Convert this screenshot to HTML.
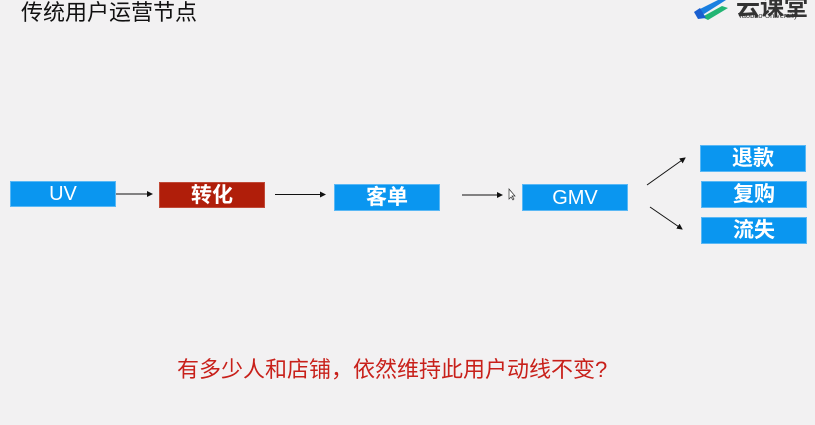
<!DOCTYPE html>
<html><head><meta charset="utf-8"><style>
html,body{margin:0;padding:0}
body{width:815px;height:425px;background:#f2f1f2;position:relative;overflow:hidden;font-family:"Liberation Sans","Noto Sans CJK SC",sans-serif}
.b{position:absolute;background:#0a96f0;color:#fff;text-align:center;font-size:20px;box-sizing:border-box;border:1px solid #5ab8f5}
.c{font-weight:bold;font-size:21px}
.t{position:absolute;white-space:nowrap}
</style></head><body>
<div class="t" style="left:21px;top:-5px;font-size:22px;color:#111">传统用户运营节点</div>
<svg style="position:absolute;left:692px;top:0" width="40" height="20"><polygon points="6,10 26,0 34,0 12,14" fill="#1a7fe0"/><polygon points="10,17 30,6 36,8 16,20" fill="#22b573"/><polygon points="2,12 8,8 14,18 6,19" fill="#1a5fd0"/></svg>
<div class="t" style="left:736px;top:-13px;font-size:24px;color:#333;font-weight:bold">云课堂</div>
<div class="t" style="left:738px;top:11px;font-size:7.5px;color:#333">Taobao University</div>

<div class="b" style="left:10px;top:181px;width:106px;height:26px;line-height:25px">UV</div>
<div class="b c" style="left:159px;top:182px;width:106px;height:26px;line-height:25px;background:#b01e0a;border-color:#c04a38">转化</div>
<div class="b c" style="left:334px;top:184px;width:106px;height:27px;line-height:26px">客单</div>
<div class="b" style="left:522px;top:184px;width:106px;height:27px;line-height:26px">GMV</div>
<div class="b c" style="left:700px;top:145px;width:106px;height:27px;line-height:26px">退款</div>
<div class="b c" style="left:701px;top:181px;width:106px;height:27px;line-height:26px">复购</div>
<div class="b c" style="left:701px;top:217px;width:106px;height:27px;line-height:26px">流失</div>

<svg style="position:absolute;left:0;top:0" width="815" height="425">
<defs><marker id="a" markerWidth="6" markerHeight="6" refX="5" refY="3" orient="auto"><path d="M0,0 L6,3 L0,6z" fill="#111"/></marker></defs>
<g stroke="#111" stroke-width="1" marker-end="url(#a)">
<line x1="116" y1="194" x2="152" y2="194"/>
<line x1="275" y1="194.5" x2="325" y2="194.5"/>
<line x1="462" y1="195" x2="502" y2="195"/>
<line x1="647" y1="185" x2="685" y2="158"/>
<line x1="650" y1="207" x2="682" y2="229"/>
</g>
<path d="M509,189 L509,199 L511,197 L513,200 L514,199 L512,196 L515,196z" fill="#fff" stroke="#333" stroke-width="0.7"/>
</svg>

<div class="t" style="left:177px;top:352px;font-size:22px;color:#c8201a">有多少人和店铺，依然维持此用户动线不变?</div>
</body></html>
